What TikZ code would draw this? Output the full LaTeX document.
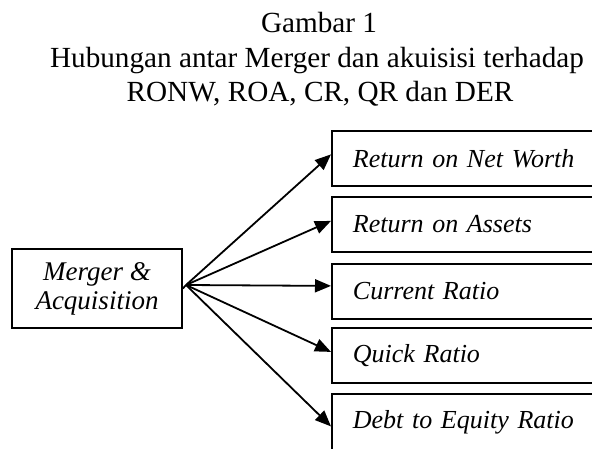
\documentclass[tikz,border=0pt]{standalone}
\usepackage{fontspec}
\setmainfont{Liberation Serif}
\usetikzlibrary{arrows.meta}

\begin{document}
\begin{tikzpicture}[x=0.5pt,y=-0.5pt,
	teks/.style={font=\fontsize{14.6}{17}\selectfont,inner sep=0pt},
	kotak/.style={draw,line width=0.9pt,anchor=north west,font=\fontsize{13}{16}\selectfont\itshape,text width=140pt,align=left,inner xsep=10.5pt,inner ysep=0pt,minimum height=27.5pt},
	panah/.style={-{Triangle[length=8pt,width=6.5pt]},line width=0.9pt}]
	\useasboundingbox (0,0) rectangle (592,448);
	\clip (0,0) rectangle (592,448);

	\node[teks,anchor=base] (judul) at (319,33) {Gambar 1};
	\node[teks,anchor=base] (sub1) at (317,68) {Hubungan antar Merger dan akuisisi terhadap};
	\node[teks,anchor=base] (sub2) at (320,102) {RONW, ROA, CR, QR dan DER};

	\node[draw,line width=0.9pt,minimum width=85pt,minimum height=39.5pt,inner sep=0pt,align=center,font=\fontsize{13.5}{14.5}\selectfont\itshape] (ma) at (97,288.5) {Merger \&\\Acquisition};
	\coordinate (pusat) at (186,285);

	\node[kotak] (ronw) at (331,130) {Return on Net Worth};
	\node[kotak] (roa) at (331,196) {Return on Assets};
	\node[kotak] (cr) at (331,263) {Current Ratio};
	\node[kotak] (qr) at (331,327) {Quick Ratio};
	\node[kotak,minimum height=28.5pt] (der) at (331,393) {Debt to Equity Ratio};

	\draw[line width=0.9pt] (ma.east) -- (pusat);
	\draw[panah] (pusat) -- ([yshift=2pt]ronw.west);
	\draw[panah] (pusat) -- ([yshift=1.75pt]roa.west);
	\draw[panah] (pusat) -- ([yshift=2.75pt]cr.west);
	\draw[panah] (pusat) -- ([yshift=1.75pt]qr.west);
	\draw[panah] (pusat) -- ([yshift=-2pt]der.west);
\end{tikzpicture}
\end{document}
